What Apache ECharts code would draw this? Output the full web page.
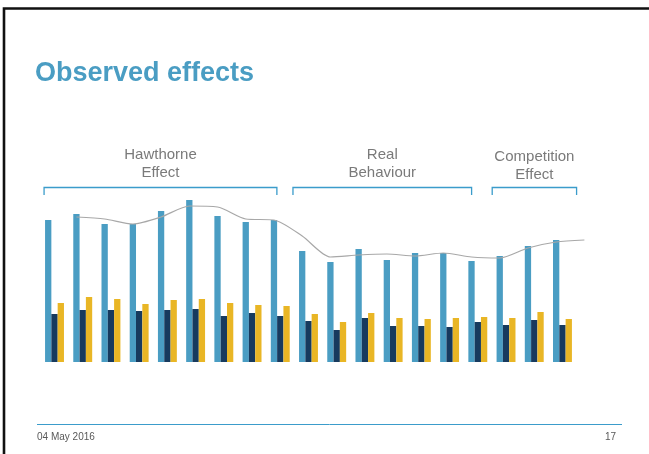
<!DOCTYPE html>
<html><head><meta charset="utf-8">
<script src="https://cdn.jsdelivr.net/npm/echarts@6/dist/echarts.min.js"></script>
<style>html,body{margin:0;padding:0;background:#fff}#c{width:649px;height:454px}</style>
</head><body><div id="c"></div>
<script>
// ---- data ----
const categories = ['1','2','3','4','5','6','7','8','9','10','11','12','13','14','15','16','17','18','19','20'];
const lightBlue = [142,148,138,138,151,162,146,140,142,111,100,113,102,109,109,101,106,116,122,null];
const darkNavy  = [48,52,52,51,52,53,46,49,46,41,32,44,36,36,35,40,37,42,37,null];
const yellow    = [59,65,63,58,62,63,59,57,56,48,40,49,44,43,44,45,44,50,43,null];
const trend     = [null,145,143,138,145,156,155,143,142,126,105,107,108,106,109,105,104,114,120,122];
const groupNames = ['Hawthorne\nEffect','Real\nBehaviour','Competition\nEffect'];
const groupSpans = [[-0.37,7.88],[8.45,14.78],[15.51,18.5]]; // in category units
const titleText = 'Observed effects';
const footerDate = '04 May 2016';
const pageNo = '17';

const FONT = '"Liberation Sans", Arial, Helvetica, sans-serif';
const chart = echarts.init(document.getElementById('c'), null, {renderer:'canvas'});
const gridLeft = 40.4, gridRight = 44.2, gridTop = 162, gridBottom = 92, shift = 6.3;
const hiddenCat = (gi) => ({type:'category', gridIndex:gi, data:categories, boundaryGap:true,
  axisLine:{show:false}, axisTick:{show:false}, axisLabel:{show:false}, splitLine:{show:false}});
const hiddenVal = (gi) => ({type:'value', gridIndex:gi, min:0, max:200,
  axisLine:{show:false}, axisTick:{show:false}, axisLabel:{show:false}, splitLine:{show:false}});

chart.setOption({
  animation:false,
  backgroundColor:'#ffffff',
  grid:[
    {left:gridLeft, right:gridRight, top:gridTop, bottom:gridBottom},
    {left:gridLeft-shift, right:gridRight+shift, top:gridTop, bottom:gridBottom}
  ],
  xAxis:[hiddenCat(0), hiddenCat(1)],
  yAxis:[hiddenVal(0), hiddenVal(1)],
  series:[
    {type:'bar', data:lightBlue, xAxisIndex:0, yAxisIndex:0, barGap:'0%', barCategoryGap:'33%',
      itemStyle:{color:'#4a9dc3'}},
    {type:'bar', data:darkNavy, xAxisIndex:0, yAxisIndex:0, barGap:'0%', barCategoryGap:'33%',
      itemStyle:{color:'#173a5e'}},
    {type:'bar', data:yellow, xAxisIndex:0, yAxisIndex:0, barGap:'0%', barCategoryGap:'33%',
      itemStyle:{color:'#e9b625'}},
    {type:'line', data:trend, xAxisIndex:1, yAxisIndex:1, smooth:0.25, symbol:'none',
      lineStyle:{color:'#a8a8a8', width:1.2}, z:5}
  ]
});

const p0 = chart.convertToPixel({xAxisIndex:0}, categories[0]);
const p1 = chart.convertToPixel({xAxisIndex:0}, categories[1]);
const bw = p1 - p0;
const px = (pos) => p0 + pos*bw;
const graphics = [];
// frame
graphics.push({type:'rect', shape:{x:4, y:8.5, width:700, height:500}, style:{fill:null, stroke:'#111', lineWidth:2.6}});
// title
graphics.push({type:'text', x:35, y:74, style:{text:titleText, font:'bold 27px '+FONT, fill:'#4a9dc3', verticalAlign:'middle', align:'left'}});
// brackets
const labelY = [164, 164, 166];
groupSpans.forEach((s, i) => {
  const x1 = px(s[0]), x2 = px(s[1]);
  graphics.push({type:'polyline', shape:{points:[[x1,195],[x1,187.5],[x2,187.5],[x2,195]]},
    style:{stroke:'#3b9ccb', lineWidth:1.3, fill:null}});
  graphics.push({type:'text', x:(x1+x2)/2, y:labelY[i], style:{text:groupNames[i], font:'15px '+FONT,
    fill:'#7a7a7a', align:'center', verticalAlign:'middle', lineHeight:18}});
});
// footer
graphics.push({type:'line', shape:{x1:37, y1:424.5, x2:622, y2:424.5}, style:{stroke:'#3b9ccb', lineWidth:1}});
graphics.push({type:'text', x:37, y:437, style:{text:footerDate, font:'10px '+FONT, fill:'#595959', verticalAlign:'middle', align:'left'}});
graphics.push({type:'text', x:616, y:437, style:{text:pageNo, font:'10px '+FONT, fill:'#595959', verticalAlign:'middle', align:'right'}});
chart.setOption({graphic:graphics});
</script>
</body></html>
